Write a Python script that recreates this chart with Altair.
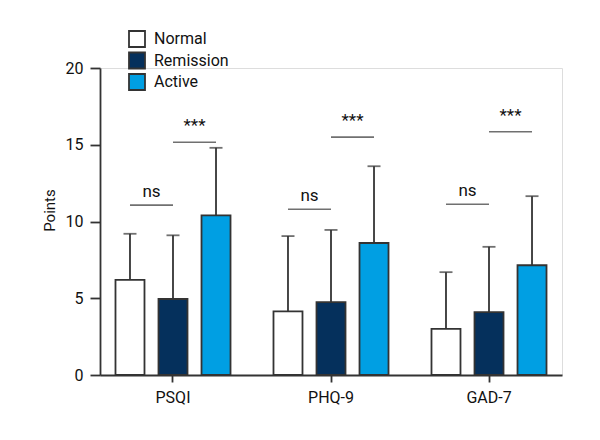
import altair as alt
import pandas as pd

FONT = "Roboto, Liberation Sans, sans-serif"

categories = ["PSQI", "PHQ-9", "GAD-7"]
groups = ["Normal", "Remission", "Active"]
colors = ["#ffffff", "#05305c", "#009fe3"]

means_normal = [6.2, 4.15, 3.0]
means_remission = [4.95, 4.75, 4.1]
means_active = [10.4, 8.6, 7.15]

upper_normal = [9.2, 9.05, 6.7]
upper_remission = [9.1, 9.45, 8.35]
upper_active = [14.8, 13.6, 11.65]

ns_levels = [11.07, 10.8, 11.12]
star_levels = [15.16, 15.5, 15.85]

offset_domain = ["Normal", "N-R", "Remission", "R-A", "Active"]

rows = []
for g, ms, us in zip(groups, [means_normal, means_remission, means_active],
                     [upper_normal, upper_remission, upper_active]):
    for c, m, u in zip(categories, ms, us):
        rows.append({"cat": c, "group": g, "mean": m, "upper": u})
df = pd.DataFrame(rows)

sig_rows = []
for c, n, s in zip(categories, ns_levels, star_levels):
    sig_rows.append({"cat": c, "pair": "N-R", "level": n, "label": "ns"})
    sig_rows.append({"cat": c, "pair": "R-A", "level": s, "label": "***"})
sig = pd.DataFrame(sig_rows)

STROKE = "#333333"
TEXT = "#111111"

x_enc = alt.X("cat:N", sort=categories,
              scale=alt.Scale(paddingInner=0.272, paddingOuter=0.098),
              axis=alt.Axis(title=None, labelAngle=0, tickSize=7, labelPadding=7,
                            labelFontSize=16, labelFont=FONT, labelColor=TEXT,
                            domainColor=STROKE, domainWidth=1.8, tickColor=STROKE,
                            tickWidth=1.8, grid=False))
xoff = alt.XOffset("group:N", scale=alt.Scale(domain=offset_domain, paddingInner=0,
                                              paddingOuter=0.1744))
xoff_sig = alt.XOffset("pair:N", scale=alt.Scale(domain=offset_domain, paddingInner=0,
                                                 paddingOuter=0.1744))
y_scale = alt.Scale(domain=[0, 20], nice=False)
y_axis = alt.Axis(title="Points", values=[0, 5, 10, 15, 20], tickSize=10, labelPadding=7,
                  labelFontSize=16, labelFont=FONT, labelColor=TEXT,
                  titleFont=FONT, titleFontSize=15, titleFontWeight="normal",
                  titleColor=TEXT, titleY=142, titleX=-43,
                  domainColor=STROKE, domainWidth=1.8, tickColor=STROKE, tickWidth=1.8,
                  grid=False)

base = alt.Chart(df)

bars = base.mark_bar(width=29, stroke=STROKE, strokeWidth=1.8).encode(
    x=x_enc,
    xOffset=xoff,
    y=alt.Y("mean:Q", scale=y_scale, axis=y_axis),
    fill=alt.Fill("group:N", sort=groups,
                  scale=alt.Scale(domain=groups, range=colors),
                  legend=alt.Legend(title=None, orient="none", legendX=28, legendY=-38,
                                    symbolType="square", symbolSize=256,
                                    symbolStrokeColor=STROKE, symbolStrokeWidth=1.8,
                                    labelFont=FONT, labelFontSize=16, labelColor=TEXT,
                                    labelOffset=8, rowPadding=-2.5, padding=0)),
)

err = base.mark_rule(color=STROKE, strokeWidth=1.8).encode(
    x=alt.X("cat:N", sort=categories),
    xOffset=xoff,
    y=alt.Y("mean:Q"),
    y2="upper:Q",
)

caps = base.mark_tick(color=STROKE, thickness=1.8, size=13, orient="horizontal").encode(
    x=alt.X("cat:N", sort=categories),
    xOffset=xoff,
    y=alt.Y("upper:Q"),
)

sig_lines = alt.Chart(sig).mark_tick(color=STROKE, thickness=1.6, size=43,
                                     orient="horizontal").encode(
    x=alt.X("cat:N", sort=categories),
    xOffset=xoff_sig,
    y=alt.Y("level:Q"),
)

ns_text = alt.Chart(sig).transform_filter(alt.datum.label == "ns").mark_text(
    font=FONT, fontSize=17, color=TEXT, baseline="alphabetic", dy=-8).encode(
    x=alt.X("cat:N", sort=categories),
    xOffset=xoff_sig,
    y=alt.Y("level:Q"),
    text="label:N",
)

star_text = alt.Chart(sig).transform_filter(alt.datum.label == "***").mark_text(
    font=FONT, fontSize=17, color=TEXT, baseline="alphabetic", dy=-11).encode(
    x=alt.X("cat:N", sort=categories),
    xOffset=xoff_sig,
    y=alt.Y("level:Q"),
    text="label:N",
)

chart = alt.layer(bars, err, caps, sig_lines, ns_text, star_text).properties(
    width=462, height=307,
    autosize=alt.AutoSizeParams(type="none"),
    padding={"left": 92, "top": 60, "right": 10, "bottom": 55},
).configure_view(stroke=None).configure(background="white")

chart.save("out.html", embed_options={"renderer": "svg", "actions": False})
